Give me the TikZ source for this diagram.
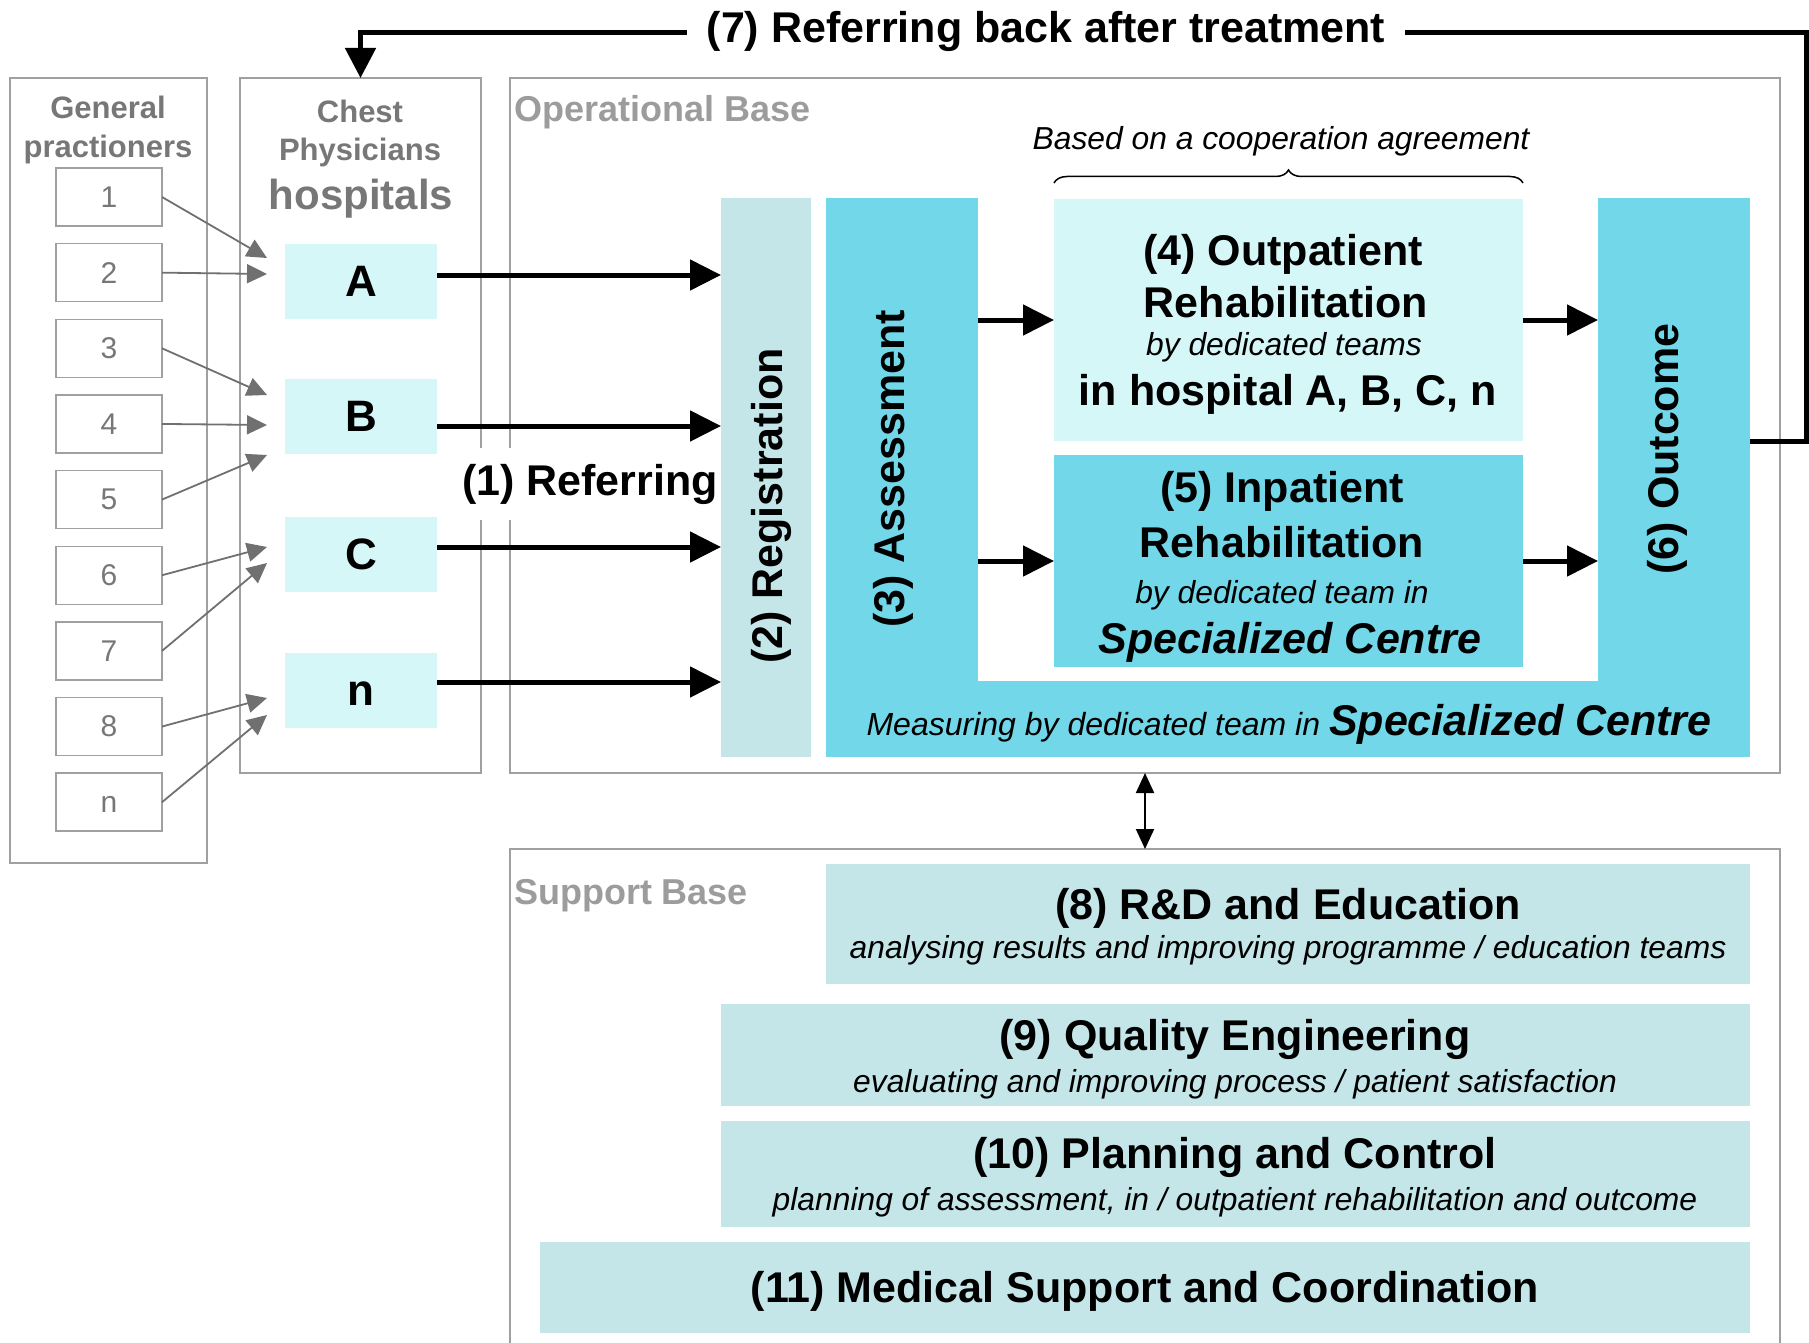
\documentclass[tikz,border=0pt]{standalone}
\usepackage{fontspec}
\setmainfont{Liberation Sans}
\usetikzlibrary{arrows.meta,decorations.pathreplacing,calc}
\definecolor{lightcyan}{HTML}{D5F7F8}
\definecolor{paleteal}{HTML}{C4E6E9}
\definecolor{cyanm}{HTML}{72D8E9}
\definecolor{boxgray}{HTML}{A0A0A0}
\definecolor{txtgray}{HTML}{777777}
\definecolor{lgray}{HTML}{9C9C9C}
\definecolor{arrgray}{HTML}{707070}
\newcommand{\myfs}[1]{\fontsize{#1}{#1}\selectfont}
\begin{document}
\begin{tikzpicture}[x=1pt,y=-1pt,
  every node/.style={inner sep=0pt, outer sep=0pt},
  area/.style={draw=boxgray, line width=2pt, anchor=north west},
  fillbox/.style={anchor=north west, draw=none},
  numbox/.style={draw=boxgray, line width=1.5pt, minimum width=106pt, minimum height=58pt, font=\myfs{30}, text=txtgray},
  hosp/.style={fill=lightcyan, minimum width=152pt, minimum height=75pt, font=\myfs{44}\bfseries},
  big/.style={font=\myfs{43}\bfseries},
  sub/.style={font=\myfs{31.8}\itshape},
  graytitle/.style={font=\myfs{31}\bfseries, text=txtgray},
  bigarrow/.style={line width=5pt, -{Triangle[length=31pt,width=30pt]}},
  grayarrow/.style={draw=arrgray, line width=1.8pt, -{Triangle[length=20pt,width=19pt]}},
]
\useasboundingbox (0,0) rectangle (1809,1343);

% frames
\node[area, minimum width=197pt, minimum height=785pt] (gp) at (10,78) {};
\node[area, minimum width=241pt, minimum height=695pt] (chest) at (240,78) {};
\node[area, minimum width=1270pt, minimum height=695pt] (opbase) at (510,78) {};
\draw[draw=boxgray, line width=2pt] (510,1350) -- (510,849) -- (1780,849) -- (1780,1350);
\coordinate (sbtop) at (1145,849);

% left column titles
\node[graytitle, anchor=base] (gpt1) at (108,119) {General};
\node[graytitle, anchor=base] (gpt2) at (108,158) {practioners};
\node[graytitle, anchor=base] (cht1) at (360,123) {Chest};
\node[graytitle, anchor=base] (cht2) at (360,161) {Physicians};
\node[anchor=base, font=\myfs{42}\bfseries, text=txtgray] (cht3) at (361,209) {hospitals};

% GP boxes
\foreach \lab [count=\k] in {1,2,3,4,5,6,7,8,n}
  \node[numbox] (g\k) at (109,{197+75.65*(\k-1)}) {\vphantom{1}\lab};

% hospitals
\node[hosp] (hA) at (361,281.5) {\vphantom{A}A};
\node[hosp] (hB) at (361,416.5) {\vphantom{A}B};
\node[hosp] (hC) at (361,554) {\vphantom{A}C};
\node[hosp] (hN) at (361,690) {\vphantom{A}n};

% gray arrows
\coordinate (t1) at (267,258);
\coordinate (t2) at (267,274);
\coordinate (t3) at (267,395);
\coordinate (t4) at (267,425);
\coordinate (t5) at (267,455);
\coordinate (t6) at (267,547);
\coordinate (t7) at (267,563);
\coordinate (t8) at (267,698);
\coordinate (t9) at (267,715);
\foreach \k in {1,...,9}
  \draw[grayarrow] (g\k.east) -- (t\k);

% operational base
\node[anchor=base west, font=\myfs{36}\bfseries, text=lgray] (opl) at (514,122) {Operational Base};
\node[fillbox, fill=paleteal, minimum width=90pt, minimum height=559pt] (reg) at (721,198) {};
\node[fillbox, fill=cyanm, minimum width=152pt, minimum height=559pt] (assess) at (826,198) {};
\node[fillbox, fill=cyanm, minimum width=152pt, minimum height=559pt] (outc) at (1598,198) {};
\node[fillbox, fill=cyanm, minimum width=924pt, minimum height=76pt] (band) at (826,681) {};
\node[fillbox, fill=lightcyan, minimum width=469pt, minimum height=242pt] (outp) at (1054,199) {};
\node[fillbox, fill=cyanm, minimum width=469pt, minimum height=212pt] (inp) at (1054,455) {};

\node[big, rotate=90] (regt) at (771.5,506) {(2) Registration};
\node[big, rotate=90] (asst) at (893,469) {(3) Assessment};
\node[big, rotate=90] (outt) at (1667,449) {(6) Outcome};

\node[big, anchor=base] (o1) at (1283,265) {(4) Outpatient};
\node[big, anchor=base] (o2) at (1286,317) {Rehabilitation};
\node[sub, anchor=base] (o3) at (1284,355) {by dedicated teams};
\node[big, anchor=base] (o4) at (1288,405) {in hospital A, B, C, n};

\node[big, anchor=base] (i1) at (1282,502) {(5) Inpatient};
\node[big, anchor=base] (i2) at (1282,557) {Rehabilitation};
\node[sub, anchor=base] (i3) at (1282,603) {by dedicated team in};
\node[anchor=base, font=\myfs{43}\bfseries\itshape] (i4) at (1290,653) {Specialized Centre};

\node[anchor=base, font=\myfs{32}\itshape] (meas) at (1289,735) {Measuring by dedicated team in {\myfs{43}\bfseries Specialized Centre}};

\node[sub, anchor=base] (agr) at (1281,150) {Based on a cooperation agreement};
\draw[line width=1.5pt, decorate, decoration={brace, amplitude=13pt}]
  ([yshift=16pt]outp.north west) -- ([yshift=16pt]outp.north east);

% arrows inside operational base
\draw[bigarrow] (assess.east |- outp.west) -- (outp.west);
\draw[bigarrow] (assess.east |- inp.west) -- (inp.west);
\draw[bigarrow] (outp.east) -- (outp.east -| outc.west);
\draw[bigarrow] (inp.east) -- (inp.east -| outc.west);

% referring arrows
\coordinate (sA) at ([yshift=6.5pt]hA.east);
\coordinate (sB) at ([yshift=-9.5pt]hB.east);
\coordinate (sC) at ([yshift=7pt]hC.east);
\coordinate (sN) at ([yshift=8pt]hN.east);
\draw[bigarrow] (sA) -- (sA -| reg.west);
\draw[bigarrow] (sB) -- (sB -| reg.west);
\draw[bigarrow] (sC) -- (sC -| reg.west);
\draw[bigarrow] (sN) -- (sN -| reg.west);
\node[big, fill=white, inner xsep=3pt, inner ysep=16pt, anchor=base] (ref1) at (590,495) {(1) Referring};

% referring back
\coordinate (r0) at ([yshift=36.5pt]outc.east);
\coordinate (rr) at (1806,441);
\coordinate (rtop) at (1806,33);
\draw[line width=5pt, -{Triangle[length=30pt,width=30pt]}]
  (r0) -- (rr) -- (rtop) -- (rtop -| chest.north) -- (chest.north);
\node[big, fill=white, inner xsep=20pt, inner ysep=4pt, anchor=base] (ret) at (1046,43) {(7) Referring back after treatment};

% link
\draw[line width=2pt, {Triangle[length=20pt,width=18pt]}-{Triangle[length=20pt,width=18pt]}]
  (opbase.south -| sbtop) -- (sbtop);

% support base
\node[anchor=base west, font=\myfs{36}\bfseries, text=lgray] (spl) at (514,904) {Support Base};
\node[fillbox, fill=paleteal, minimum width=924pt, minimum height=120pt] (rd) at (826,864) {};
\node[fillbox, fill=paleteal, minimum width=1029pt, minimum height=102pt] (qe) at (721,1004) {};
\node[fillbox, fill=paleteal, minimum width=1029pt, minimum height=106pt] (pc) at (721,1121) {};
\node[fillbox, fill=paleteal, minimum width=1210pt, minimum height=91pt] (ms) at (540,1242) {};

\node[big, anchor=base] (rd1) at (1288,919) {(8) R\&D and Education};
\node[sub, anchor=base] (rd2) at (1288,958) {analysing results and improving programme / education teams};
\node[big, anchor=base] (qe1) at (1235,1050) {(9) Quality Engineering};
\node[sub, anchor=base] (qe2) at (1235,1092) {evaluating and improving process / patient satisfaction};
\node[big, anchor=base] (pc1) at (1235,1168) {(10) Planning and Control};
\node[sub, anchor=base] (pc2) at (1235,1210) {planning of assessment, in / outpatient rehabilitation and outcome};
\node[big, anchor=base] (ms1) at (1145,1302) {(11) Medical Support and Coordination};
\end{tikzpicture}
\end{document}
